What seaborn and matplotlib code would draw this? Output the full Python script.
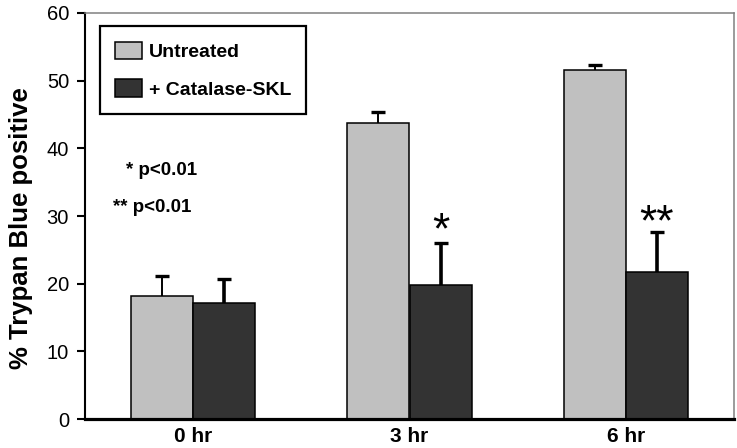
import matplotlib
matplotlib.use("Agg")
import matplotlib.pyplot as plt
import seaborn as sns
import pandas as pd

plt.rcParams['font.family'] = ['Liberation Sans', 'DejaVu Sans']

# ---- data ----
times = ["0 hr", "3 hr", "6 hr"]
groups = ["Untreated", "+ Catalase-SKL"]
untreated = [18.2, 43.8, 51.6]
untreated_err = [2.9, 1.6, 0.7]
catalase = [17.2, 19.8, 21.7]
catalase_err = [3.5, 6.2, 6.0]
sig_marks = ["", "*", "**"]
note_lines = ["* p<0.01", "** p<0.01"]
y_ticks = [0, 10, 20, 30, 40, 50, 60]
ylabel = "% Trypan Blue positive"

colors = ["#c0c0c0", "#333333"]

df = pd.DataFrame({
    "time": times + times,
    "group": [groups[0]] * len(times) + [groups[1]] * len(times),
    "value": untreated + catalase,
})

fig = plt.figure(figsize=(7.37, 4.48), dpi=100)
ax = fig.add_axes([85 / 737, 1 - 419 / 448, 649 / 737, 406 / 448])

sns.barplot(data=df, x="time", y="value", hue="group", hue_order=groups,
            palette=colors, width=0.575, gap=0, edgecolor="black",
            linewidth=1.1, errorbar=None, saturation=1, ax=ax)

bar_conts = list(ax.containers)[:2]
errs = [untreated_err, catalase_err]
err_lw = [1.4, 2.6]
for i, cont in enumerate(bar_conts):
    for bar, e in zip(cont, errs[i]):
        x = bar.get_x() + bar.get_width() / 2
        y = bar.get_height()
        eb = ax.errorbar([x], [y], yerr=[[0], [e]], fmt="none", ecolor="black",
                         elinewidth=err_lw[i], capsize=4.7, capthick=2.4, zorder=3)
        caps = eb[1]
        if len(caps) == 2:
            caps[0].set_visible(False)

# significance stars above catalase bars
star_offset = [0, -1.4, -1.9]
for bar, e, mark, off in zip(bar_conts[1], catalase_err, sig_marks, star_offset):
    if mark:
        x = bar.get_x() + bar.get_width() / 2
        ax.text(x, bar.get_height() + e + off, mark, ha="center", va="bottom",
                fontsize=32, color="black")

ax.set_ylim(0, 60)
ax.set_xlim(-0.5, 2.5)
ax.set_yticks(y_ticks)
ax.set_xlabel("")
ax.set_ylabel(ylabel, fontsize=18.5, fontweight="bold")
ax.yaxis.set_label_coords(-0.08, 0.47)

ax.tick_params(axis="y", length=5.5, width=1.5, pad=6, labelsize=14.5, direction="out")
ax.tick_params(axis="x", length=0, pad=5.5, labelsize=15)
for lab in ax.get_xticklabels():
    lab.set_fontweight("bold")

ax.spines["left"].set_linewidth(1.5)
ax.spines["left"].set_color("black")
ax.spines["bottom"].set_linewidth(2.3)
ax.spines["bottom"].set_color("black")
for s in ["top", "right"]:
    ax.spines[s].set_linewidth(1.1)
    ax.spines[s].set_color("#808080")

ax.text(0.063, 0.613, note_lines[0], transform=ax.transAxes, ha="left", va="center",
        fontsize=13.5, fontweight="bold")
ax.text(0.043, 0.522, note_lines[1], transform=ax.transAxes, ha="left", va="center",
        fontsize=13.5, fontweight="bold")

handles, labels = ax.get_legend_handles_labels()
leg = ax.legend(handles, labels, loc="upper left", bbox_to_anchor=(0.023, 0.968),
                borderaxespad=0, frameon=True, fancybox=False, shadow=False,
                prop={"weight": "bold", "size": 14},
                handlelength=1.35, handleheight=1.0, handletextpad=0.35,
                labelspacing=0.95, borderpad=0.8, title=None)
leg.get_frame().set_edgecolor("black")
leg.get_frame().set_linewidth(1.6)
leg.get_frame().set_facecolor("white")
leg.get_frame().set_alpha(1)

fig.savefig("out.png", dpi=100)
